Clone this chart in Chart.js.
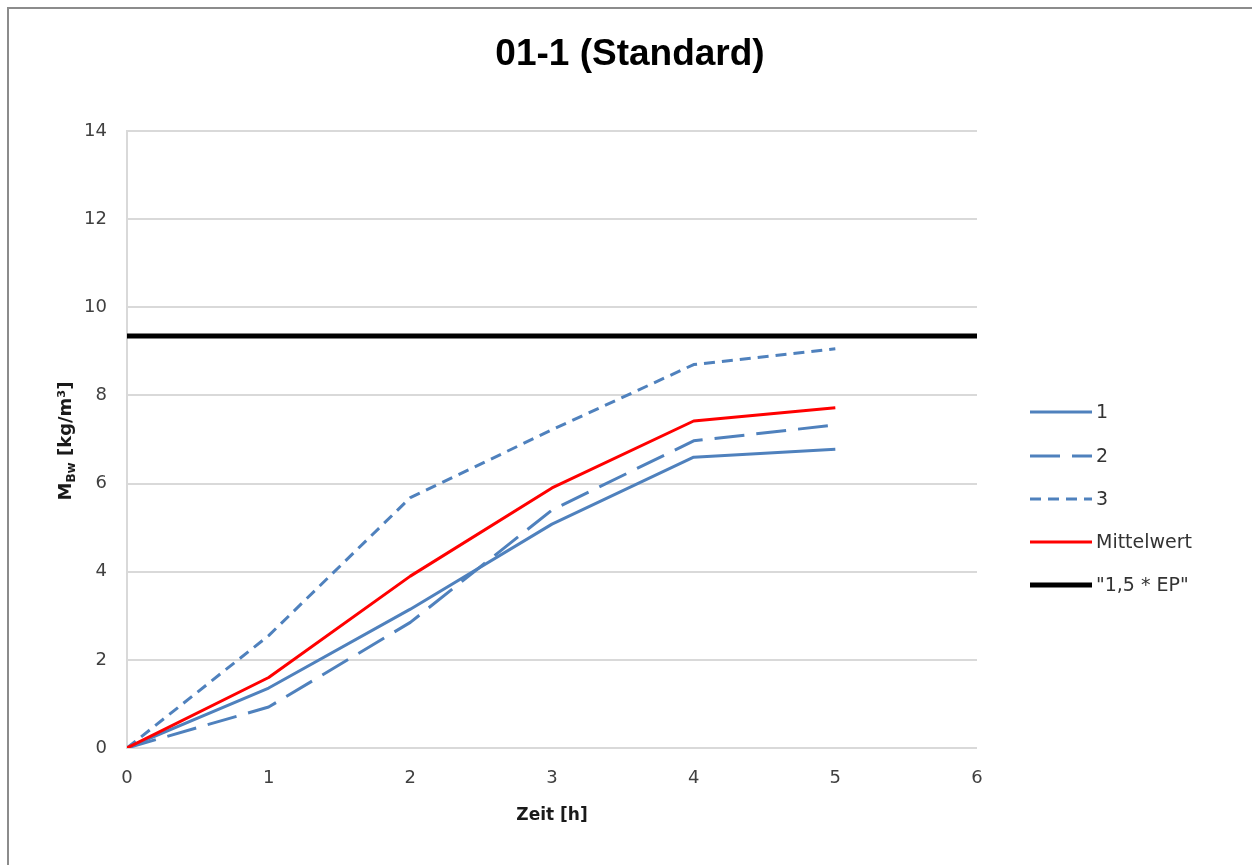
<!DOCTYPE html>
<html>
<head>
<meta charset="utf-8">
<title>01-1 (Standard)</title>
<script src="https://cdn.jsdelivr.net/npm/chart.js@4.4.0/dist/chart.umd.min.js"></script>
<style>
  html, body { margin: 0; padding: 0; background: #fff; }
  canvas { display: block; }
</style>
</head>
<body>
<canvas id="myChart" width="1252" height="865"></canvas>
<script>
// Zeit in Stunden und Messwerte M_Bw [kg/m³]
const hours = [0, 1, 2, 3, 4, 5];
const run1 = [0, 1.36, 3.15, 5.08, 6.6, 6.78];
const run2 = [0, 0.93, 2.85, 5.4, 6.97, 7.33];
const run3 = [0, 2.55, 5.68, 7.22, 8.7, 9.06];
const mittelwert = [0, 1.6, 3.9, 5.9, 7.42, 7.72];
// Grenzwert 1,5 * EP über die ganze Achse
const limitHours = [0, 6];
const limitValues = [9.35, 9.35];

const FONT = "'DejaVu Sans', Verdana, sans-serif";
const TITLE_FONT = "'Liberation Sans', Arial, sans-serif";
const blue = "#4f81bd";

function pts(xs, ys) {
  return xs.map((x, i) => ({ x: x, y: ys[i] }));
}

const datasets = [
  { label: "1", data: pts(hours, run1), borderColor: blue, borderWidth: 3, order: 4 },
  { label: "2", data: pts(hours, run2), borderColor: blue, borderWidth: 3, borderDash: [30, 12], order: 3 },
  { label: "3", data: pts(hours, run3), borderColor: blue, borderWidth: 3, borderDash: [11, 7], order: 2 },
  { label: "Mittelwert", data: pts(hours, mittelwert), borderColor: "#ff0000", borderWidth: 3, order: 1 },
  { label: "\"1,5 * EP\"", data: pts(limitHours, limitValues), borderColor: "#000000", borderWidth: 5, order: 0 }
];
datasets.forEach(d => {
  d.pointRadius = 0;
  d.tension = 0;
  d.fill = false;
  d.borderJoinStyle = "round";
});

// Rahmen, Titel, Achsentitel und Legende
const decorations = {
  id: "decorations",
  beforeDraw(chart) {
    const ctx = chart.ctx;
    ctx.save();
    ctx.fillStyle = "#fff";
    ctx.fillRect(0, 0, chart.width, chart.height);
    ctx.strokeStyle = "#8c8c8c";
    ctx.lineWidth = 2;
    ctx.beginPath();
    ctx.moveTo(8, chart.height + 5);
    ctx.lineTo(8, 8);
    ctx.lineTo(chart.width + 5, 8);
    ctx.stroke();
    ctx.restore();
  },
  afterDraw(chart) {
    const ctx = chart.ctx;
    const area = chart.chartArea;
    ctx.save();

    // Titel
    ctx.fillStyle = "#000";
    ctx.font = "bold 37px " + TITLE_FONT;
    ctx.textAlign = "center";
    ctx.textBaseline = "middle";
    ctx.fillText("01-1 (Standard)", 630, 55);

    // x-Achsentitel
    ctx.font = "bold 17px " + FONT;
    ctx.fillStyle = "#1a1a1a";
    ctx.fillText("Zeit [h]", (area.left + area.right) / 2, 816);

    // y-Achsentitel mit Index
    ctx.save();
    ctx.translate(71, 441);
    ctx.rotate(-Math.PI / 2);
    ctx.textAlign = "left";
    ctx.textBaseline = "alphabetic";
    const big = "bold 18px " + FONT;
    const small = "bold 12px " + FONT;
    ctx.font = big;
    const wM = ctx.measureText("M").width;
    const wRest = ctx.measureText(" [kg/m³]").width;
    ctx.font = small;
    const wSub = ctx.measureText("Bw").width;
    let x = -(wM + wSub + wRest) / 2;
    ctx.font = big;
    ctx.fillText("M", x, 0);
    x += wM;
    ctx.font = small;
    ctx.fillText("Bw", x, 4);
    x += wSub;
    ctx.font = big;
    ctx.fillText(" [kg/m³]", x, 0);
    ctx.restore();

    // Legende
    const rows = [412, 456, 499, 542, 585];
    chart.data.datasets.forEach((d, i) => {
      const y = rows[i];
      ctx.strokeStyle = d.borderColor;
      ctx.lineWidth = d.borderWidth;
      ctx.setLineDash(d.borderDash || []);
      ctx.lineCap = "butt";
      ctx.beginPath();
      ctx.moveTo(1030, y);
      ctx.lineTo(1092, y);
      ctx.stroke();
      ctx.setLineDash([]);
      ctx.fillStyle = "#333";
      ctx.font = "19px " + FONT;
      ctx.textAlign = "left";
      ctx.textBaseline = "middle";
      ctx.fillText(d.label, 1096, y + 1);
    });
    ctx.restore();
  }
};

new Chart("myChart", {
  type: "line",
  data: { datasets: datasets },
  options: {
    responsive: false,
    animation: false,
    layout: { padding: { left: 0, right: 1252 - 977, top: 131, bottom: 0 } },
    plugins: {
      legend: { display: false },
      title: { display: false },
      tooltip: { enabled: false }
    },
    scales: {
      x: {
        type: "linear",
        min: 0,
        max: 6,
        ticks: { stepSize: 1, padding: 20, color: "#404040", font: { family: FONT, size: 18 } },
        grid: { display: false, drawTicks: false },
        border: { display: false },
        afterFit(scale) { scale.height = 865 - 748; }
      },
      y: {
        min: 0,
        max: 14,
        ticks: { stepSize: 2, padding: 20, color: "#404040", font: { family: FONT, size: 18 } },
        grid: { color: "#d9d9d9", lineWidth: 2, drawTicks: false },
        border: { display: true, color: "#d9d9d9", width: 2 },
        afterFit(scale) { scale.width = 127; }
      }
    }
  },
  plugins: [decorations]
});
</script>
</body>
</html>
